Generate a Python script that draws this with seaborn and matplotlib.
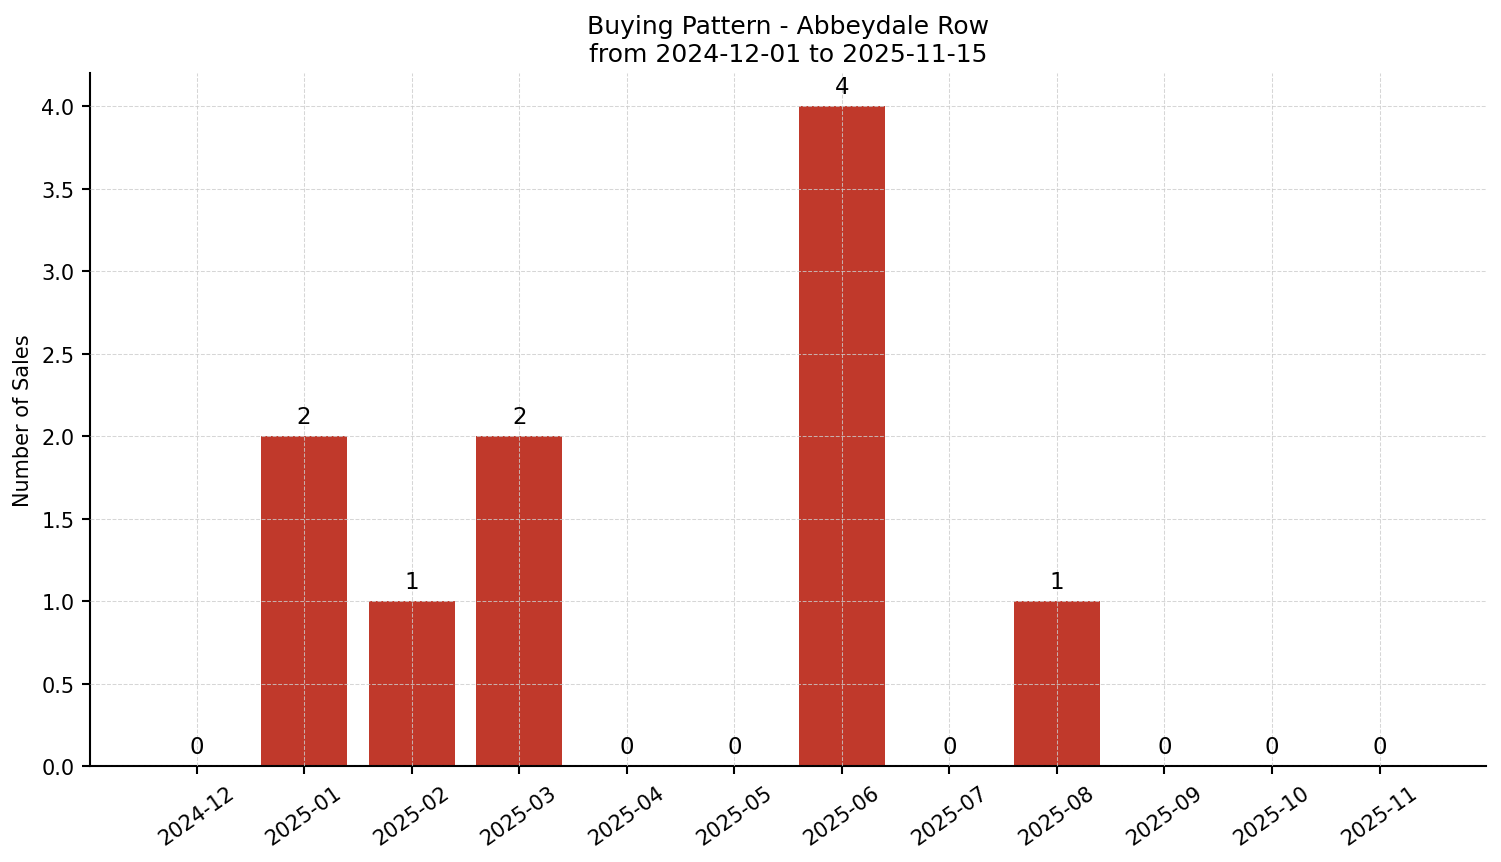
import matplotlib
matplotlib.use("Agg")
import matplotlib.pyplot as plt
import seaborn as sns
import pandas as pd

months = ["2024-12", "2025-01", "2025-02", "2025-03", "2025-04", "2025-05",
          "2025-06", "2025-07", "2025-08", "2025-09", "2025-10", "2025-11"]
sales = [0, 2, 1, 2, 0, 0, 4, 0, 1, 0, 0, 0]

sns.set_style("white")
plt.rcParams['font.family'] = ['DejaVu Sans']
plt.rcParams.update({"text.color": "black", "axes.labelcolor": "black",
                     "xtick.color": "black", "ytick.color": "black"})

df = pd.DataFrame({"month": months, "sales": sales})

fig, ax = plt.subplots(figsize=(10.007, 5.753), dpi=150)
fig.subplots_adjust(left=0.06, right=0.99, top=0.914, bottom=0.111)

sns.barplot(data=df, x="month", y="sales", color="#c0392b", saturation=1,
            width=0.8, linewidth=0, ax=ax)

for i, v in enumerate(sales):
    ax.text(i, v + 0.05, str(v), ha="center", va="bottom", fontsize=11, color="black")

ax.set_xlim(-0.99, 11.99)
ax.set_ylim(0, 4.2)
ax.grid(True, linestyle="--", linewidth=0.5, color="#cccccc", alpha=0.8)
ax.set_axisbelow(False)
ticks = [0, 0.5, 1.0, 1.5, 2.0, 2.5, 3.0, 3.5, 4.0]
ax.set_yticks(ticks)
ax.set_yticklabels([f"{t:.1f}" for t in ticks])
ax.tick_params(axis="both", which="both", length=4, width=1, labelsize=10,
               bottom=True, left=True, colors="black")
plt.setp(ax.get_xticklabels(), rotation=35, ha="center")
ax.set_xlabel("")
ax.set_ylabel("Number of Sales", fontsize=10, color="black")
ax.set_title("Buying Pattern - Abbeydale Row\nfrom 2024-12-01 to 2025-11-15",
             fontsize=12, color="black")
for s in ["top", "right"]:
    ax.spines[s].set_visible(False)
for s in ["left", "bottom"]:
    ax.spines[s].set_color("black")
    ax.spines[s].set_linewidth(1)

fig.savefig("out.png", dpi=150)
